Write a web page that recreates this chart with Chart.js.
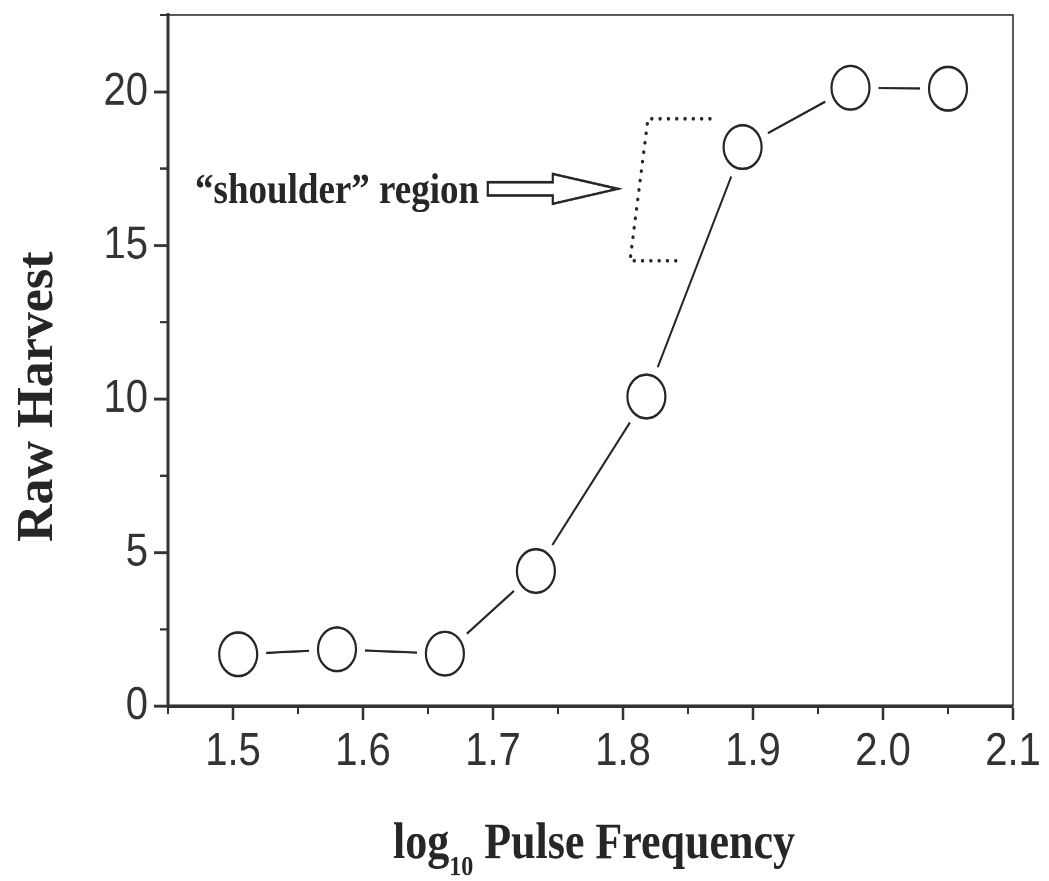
<!DOCTYPE html>
<html>
<head>
<meta charset="utf-8">
<script src="https://cdn.jsdelivr.net/npm/chart.js@4.4.1/dist/chart.umd.min.js"></script>
<style>
  html, body { margin: 0; padding: 0; background: #ffffff; }
  #c { display: block; width: 1049px; height: 881px; }
</style>
</head>
<body>
<canvas id="c" width="1049" height="766" style="width:1049px;height:881px;"></canvas>
<script>
// ---- data ----
const logPulseFrequency = [1.504, 1.580, 1.663, 1.733, 1.818, 1.892, 1.975, 2.050];
const rawHarvest        = [1.69, 1.85, 1.71, 4.40, 10.08, 18.20, 20.13, 20.10];

// ---- axes ----
const xMajorTicks = [1.5, 1.6, 1.7, 1.8, 1.9, 2.0, 2.1];
const xMinorTicks = [1.45, 1.55, 1.65, 1.75, 1.85, 1.95, 2.05];
const yMajorTicks = [0, 5, 10, 15, 20];
const yMinorTicks = [2.5, 7.5, 12.5, 17.5, 22.5];
const xRange = [1.45, 2.1];
const yRange = [0, 22.5];

// ---- texts ----
const xTitleMain = 'log';
const xTitleSub = '10';
const xTitleRest = ' Pulse Frequency';
const yTitle = 'Raw Harvest';
const noteText = '\u201Cshoulder\u201D region';

// annotation anchors in data units
const noteAnchor = [1.4708, 16.38];
const arrowSpec = { tail: 1.696, headStart: 1.746, tip: 1.796, y: 16.84 };
const bracket = [[1.8669, 19.12], [1.8192, 19.12], [1.8054, 14.50], [1.8454, 14.50]];

const INK = '#262626';
const points = logPulseFrequency.map((v, i) => ({ x: v, y: rawHarvest[i] }));

const extras = {
  id: 'extras',
  afterDraw(chart) {
    const { ctx, chartArea: a, scales: { x, y } } = chart;
    ctx.save();
    // top and right frame lines
    ctx.strokeStyle = '#333';
    ctx.lineWidth = 1.6;
    ctx.beginPath();
    ctx.moveTo(a.left, a.top);
    ctx.lineTo(a.right, a.top);
    ctx.lineTo(a.right, a.bottom);
    ctx.stroke();
    // minor ticks
    ctx.lineWidth = 2;
    xMinorTicks.forEach(v => {
      const px = x.getPixelForValue(v);
      ctx.beginPath(); ctx.moveTo(px, a.bottom); ctx.lineTo(px, a.bottom + 7); ctx.stroke();
    });
    yMinorTicks.forEach(v => {
      const py = y.getPixelForValue(v);
      ctx.beginPath(); ctx.moveTo(a.left, py); ctx.lineTo(a.left - 8, py); ctx.stroke();
    });

    ctx.fillStyle = INK;
    ctx.strokeStyle = INK;

    // annotation text
    ctx.font = 'bold 37px "Liberation Serif", "Times New Roman", serif';
    ctx.textAlign = 'left';
    ctx.textBaseline = 'alphabetic';
    ctx.fillText(noteText, x.getPixelForValue(noteAnchor[0]), y.getPixelForValue(noteAnchor[1]));

    // hollow arrow
    const ay = y.getPixelForValue(arrowSpec.y);
    const xt = x.getPixelForValue(arrowSpec.tail);
    const xh = x.getPixelForValue(arrowSpec.headStart);
    const xp = x.getPixelForValue(arrowSpec.tip);
    const sh = 5.7, hh = 13;
    ctx.lineWidth = 2.2;
    ctx.lineJoin = 'miter';
    ctx.beginPath();
    ctx.moveTo(xt, ay - sh);
    ctx.lineTo(xh, ay - sh);
    ctx.lineTo(xh, ay - hh);
    ctx.lineTo(xp, ay);
    ctx.lineTo(xh, ay + hh);
    ctx.lineTo(xh, ay + sh);
    ctx.lineTo(xt, ay + sh);
    ctx.closePath();
    ctx.stroke();

    // dotted bracket
    ctx.save();
    ctx.lineWidth = 3.2;
    ctx.lineCap = 'round';
    ctx.setLineDash([0.1, 8.2]);
    ctx.beginPath();
    bracket.forEach((p, i) => {
      const px = x.getPixelForValue(p[0]), py = y.getPixelForValue(p[1]);
      if (i === 0) ctx.moveTo(px, py); else ctx.lineTo(px, py);
    });
    ctx.stroke();
    ctx.restore();

    // y title
    ctx.save();
    ctx.translate(52, 345);
    ctx.rotate(-Math.PI / 2);
    ctx.scale(0.87, 1);
    ctx.font = 'bold 52px "Liberation Serif", "Times New Roman", serif';
    ctx.textAlign = 'center';
    ctx.textBaseline = 'alphabetic';
    ctx.fillText(yTitle, 0, 0);
    ctx.restore();

    // x title with subscript
    const fMain = 'bold 44px "Liberation Serif", "Times New Roman", serif';
    const fSub = 'bold 24px "Liberation Serif", "Times New Roman", serif';
    ctx.textAlign = 'left';
    ctx.textBaseline = 'alphabetic';
    ctx.font = fMain;
    const w1 = ctx.measureText(xTitleMain).width;
    const w3 = ctx.measureText(xTitleRest).width;
    ctx.font = fSub;
    const w2 = ctx.measureText(xTitleSub).width;
    const total = w1 + w2 + w3;
    let cx = 594 - total / 2;
    const base = 746;
    ctx.font = fMain;
    ctx.fillText(xTitleMain, cx, base);
    cx += w1;
    ctx.font = fSub;
    ctx.fillText(xTitleSub, cx, base + 15);
    cx += w2;
    ctx.font = fMain;
    ctx.fillText(xTitleRest, cx, base);
    ctx.restore();
  }
};

const tickFont = { family: '"Liberation Sans", Arial, sans-serif', size: 40 };

new Chart(document.getElementById('c'), {
  type: 'line',
  data: {
    datasets: [
      {
        // open circle markers
        data: points,
        showLine: false,
        pointRadius: 19,
        pointBorderWidth: 2.2,
        pointBorderColor: INK,
        pointBackgroundColor: '#ffffff',
        order: 0
      },
      {
        // connecting line with white halo around each marker
        data: points,
        borderColor: INK,
        borderWidth: 2,
        tension: 0,
        pointRadius: 28,
        pointBorderWidth: 0,
        pointBackgroundColor: '#ffffff',
        pointBorderColor: '#ffffff',
        order: 1
      }
    ]
  },
  options: {
    responsive: false,
    maintainAspectRatio: false,
    devicePixelRatio: 2,
    animation: false,
    events: [],
    layout: { autoPadding: false, padding: { left: 0, top: 13, right: 36, bottom: 0 } },
    plugins: { legend: { display: false }, tooltip: { enabled: false }, title: { display: false } },
    scales: {
      x: {
        type: 'linear',
        min: xRange[0],
        max: xRange[1],
        afterBuildTicks: s => { s.ticks = xMajorTicks.map(v => ({ value: v })); },
        afterFit: s => { s.height = 152; s.paddingLeft = 0; s.paddingRight = 0; },
        ticks: {
          font: tickFont,
          color: '#333',
          padding: 4,
          maxRotation: 0,
          autoSkip: false,
          callback: v => Number(v).toFixed(1)
        },
        grid: { display: true, drawOnChartArea: false, drawTicks: true, tickLength: 12, tickWidth: 2.5, tickColor: '#333' },
        border: { display: true, width: 3, color: '#333' }
      },
      y: {
        type: 'linear',
        min: yRange[0],
        max: yRange[1],
        afterBuildTicks: s => { s.ticks = yMajorTicks.map(v => ({ value: v })); },
        afterFit: s => { s.width = 168; s.paddingTop = 0; s.paddingBottom = 0; },
        ticks: {
          font: tickFont,
          color: '#333',
          padding: 6,
          autoSkip: false,
          callback: v => String(v)
        },
        grid: { display: true, drawOnChartArea: false, drawTicks: true, tickLength: 14, tickWidth: 2.5, tickColor: '#333' },
        border: { display: true, width: 3, color: '#333' }
      }
    }
  },
  plugins: [extras]
});
</script>
</body>
</html>
